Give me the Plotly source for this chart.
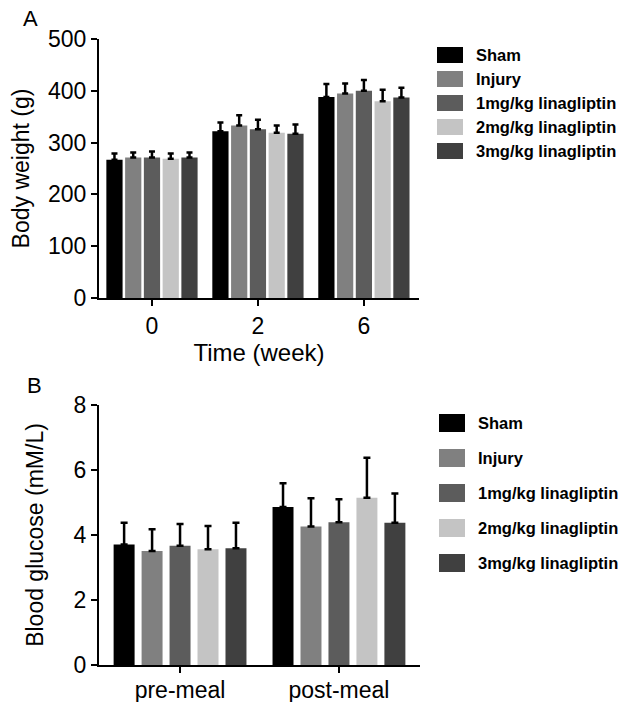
import plotly.graph_objects as go

groups = ["Sham", "Injury", "1mg/kg linagliptin", "2mg/kg linagliptin", "3mg/kg linagliptin"]
colors = ["#000000", "#808080", "#5c5c5c", "#c4c4c4", "#404040"]

# Panel A: body weight (g)
weeks = ["0", "2", "6"]
bw_sham = [267, 322, 388]
bw_injury = [271, 333, 395]
bw_1mg = [271, 326, 400]
bw_2mg = [269, 319, 380]
bw_3mg = [271, 317, 387]
bw_err_sham = [12, 17, 25]
bw_err_injury = [10, 20, 19]
bw_err_1mg = [12, 18, 21]
bw_err_2mg = [10, 14, 22]
bw_err_3mg = [10, 18, 19]

# Panel B: blood glucose (mM/L)
meals = ["pre-meal", "post-meal"]
bg_sham = [3.71, 4.86]
bg_injury = [3.51, 4.26]
bg_1mg = [3.67, 4.39]
bg_2mg = [3.56, 5.15]
bg_3mg = [3.59, 4.38]
bg_err_sham = [0.67, 0.73]
bg_err_injury = [0.67, 0.87]
bg_err_1mg = [0.67, 0.71]
bg_err_2mg = [0.72, 1.23]
bg_err_3mg = [0.79, 0.90]

bw_vals = [bw_sham, bw_injury, bw_1mg, bw_2mg, bw_3mg]
bw_errs = [bw_err_sham, bw_err_injury, bw_err_1mg, bw_err_2mg, bw_err_3mg]
bg_vals = [bg_sham, bg_injury, bg_1mg, bg_2mg, bg_3mg]
bg_errs = [bg_err_sham, bg_err_injury, bg_err_1mg, bg_err_2mg, bg_err_3mg]

FONT = "Liberation Sans, Arial, sans-serif"
W, H = 630, 702

fig = go.Figure()

def add_panel(cats, vals, errs, xa, ya, pitch, width, thick, capw):
    n = len(vals)
    for i in range(n):
        off = -n * pitch / 2 + i * pitch + (pitch - width) / 2
        fig.add_trace(go.Bar(
            x=cats, y=vals[i], name=groups[i], showlegend=False,
            marker=dict(color=colors[i], line=dict(width=0)),
            width=width, offset=off,
            error_y=dict(type="data", array=errs[i], arrayminus=[0] * len(cats),
                         symmetric=False, color="black", thickness=thick, width=capw),
            xaxis=xa, yaxis=ya,
        ))

add_panel(weeks, bw_vals, bw_errs, "x", "y", 0.177, 0.153, 2.5, 3)
add_panel(meals, bg_vals, bg_errs, "x2", "y2", 0.176, 0.132, 2.5, 3.5)

axis_common = dict(showline=True, linecolor="black", linewidth=2, ticks="outside",
                   ticklen=6, tickwidth=2, tickcolor="black", showgrid=False,
                   zeroline=False, tickfont=dict(family=FONT, size=23, color="black"),
                   automargin=False)

def px_x(a, b):
    return [a / W, b / W]

def px_y(top, bottom):
    return [1 - bottom / H, 1 - top / H]

fig.update_layout(
    width=W, height=H,
    margin=dict(l=0, r=0, t=0, b=0),
    paper_bgcolor="white", plot_bgcolor="white",
    barmode="group",
    xaxis=dict(domain=px_x(99, 419), anchor="y", type="category", range=[-0.5, 2.52],
               title=dict(text="Time (week)", font=dict(family=FONT, size=24, color="black"), standoff=0),
               **axis_common),
    yaxis=dict(domain=px_y(39, 298), anchor="x", range=[0, 500], tickvals=[0, 100, 200, 300, 400, 500],
               title=dict(text="Body weight (g)", font=dict(family=FONT, size=23, color="black"), standoff=12),
               **axis_common),
    xaxis2=dict(domain=px_x(99, 420), anchor="y2", type="category", range=[-0.51, 1.51],
                ticklabelstandoff=-3, **axis_common),
    yaxis2=dict(domain=px_y(405, 665), anchor="x2", range=[0, 8], tickvals=[0, 2, 4, 6, 8],
                title=dict(text="Blood glucose (mM/L)", font=dict(family=FONT, size=23, color="black"), standoff=24),
                **axis_common),
)

# Panel letters
fig.add_annotation(text="A", x=30 / W, y=1 - 18 / H, xref="paper", yref="paper",
                   xanchor="center", yanchor="middle",
                   showarrow=False, font=dict(family=FONT, size=22, color="black"))
fig.add_annotation(text="B", x=34 / W, y=1 - 385 / H, xref="paper", yref="paper",
                   xanchor="center", yanchor="middle",
                   showarrow=False, font=dict(family=FONT, size=22, color="black"))

# Manual legends
LFONT = "Liberation Sans, Arial, sans-serif"
def add_legend(rows_y, sq_h, sq_x0, sq_x1, text_x):
    for name, col, yc in zip(groups, colors, rows_y):
        fig.add_shape(type="rect", xref="paper", yref="paper",
                      x0=sq_x0 / W, x1=sq_x1 / W, y0=1 - (yc + sq_h / 2) / H, y1=1 - (yc - sq_h / 2) / H,
                      fillcolor=col, line=dict(width=0))
        fig.add_annotation(text="<b>%s</b>" % name, x=text_x / W, y=1 - yc / H, xref="paper", yref="paper",
                           xanchor="left", yanchor="middle", showarrow=False,
                           font=dict(family=LFONT, size=16.5, color="black"))

add_legend([55, 79, 103, 127, 151], 16, 437, 463, 474)
add_legend([423, 458, 493, 528, 563], 18, 439, 465, 476)

fig.write_html("out.html", config={"displayModeBar": False},
               post_script="document.body.style.margin='0';document.body.style.padding='0';")
